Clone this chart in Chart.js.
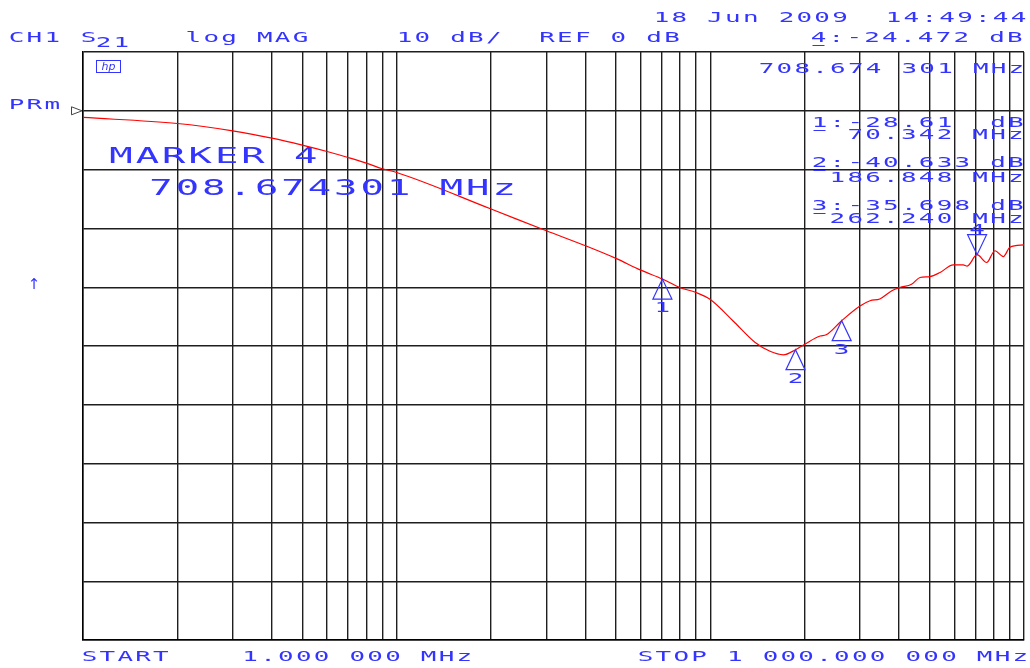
<!DOCTYPE html>
<html>
<head>
<meta charset="utf-8">
<script src="https://cdn.jsdelivr.net/npm/chart.js@4.4.0/dist/chart.umd.min.js"></script>
<style>
html, body { margin: 0; padding: 0; background: #fff; }
#wrap { width: 1030px; height: 668px; }
</style>
</head>
<body>
<div id="wrap"><canvas id="chart" width="1030" height="668"></canvas></div>
<script>
// S21 trace (MHz, dB)
const freqMHz = [1, 2, 3, 4, 5, 6, 7, 8, 9, 10, 20, 30, 40, 50, 60, 70.342, 80, 90, 100,
    118, 139, 155, 171, 186.848, 200, 224, 234, 262.24, 300, 323, 347, 379, 402,
    438, 466, 501, 540, 595, 640, 659, 708.674, 760, 808, 859, 902, 1000];
const s21dB = [-1.13, -2.16, -3.40, -4.64, -5.83, -6.92, -7.94, -8.89, -9.86, -10.49,
    -16.7, -20.4, -22.96, -25.1, -27.1, -28.61, -30.05, -30.9, -32.1,
    -35.7, -39.4, -40.9, -41.5, -40.633, -39.7, -38.3, -38.1, -35.698, -33.2, -32.3, -32.0, -30.6, -30.05,
    -29.5, -28.35, -28.2, -27.5, -26.2, -26.2, -26.4, -24.472, -25.8, -23.8, -24.8, -23.2, -22.8];

// markers
const markerNum = [1, 2, 3, 4];
const markerFreq = [70.342, 186.848, 262.240, 708.674301];
const markerDB = [-28.61, -40.633, -35.698, -24.472];

// grid
const gridFreqs = [1, 2, 3, 4, 5, 6, 7, 8, 9, 10, 20, 30, 40, 50, 60, 70, 80, 90, 100,
    200, 300, 400, 500, 600, 700, 800, 900, 1000];
const dbTicks = [-90, -80, -70, -60, -50, -40, -30, -20, -10, 0, 10];

const BLUE = '#3434ff';
const PITCH = 17.85;

function hpText(ctx, str, cx0, base, pitch, size, sx) {
    ctx.save();
    ctx.font = size + 'px "DejaVu Sans Mono"';
    ctx.textAlign = 'center';
    ctx.textBaseline = 'alphabetic';
    ctx.fillStyle = BLUE;
    for (let i = 0; i < str.length; i++) {
        const ch = str[i];
        if (ch === ' ') continue;
        ctx.save();
        ctx.translate(cx0 + i * pitch, base);
        ctx.scale(sx, 1);
        ctx.fillText(ch, 0, 0);
        ctx.restore();
    }
    ctx.restore();
}

function small(ctx, str, cx0, base) { hpText(ctx, str, cx0, base, PITCH, 14, 1.85); }
function big(ctx, str, cx0, base) { hpText(ctx, str, cx0, base, 26.4, 21, 1.85); }

function underline(ctx, cx, base) {
    ctx.save();
    ctx.strokeStyle = BLUE;
    ctx.lineWidth = 1;
    ctx.beginPath();
    ctx.moveTo(cx - 6, base + 3.5);
    ctx.lineTo(cx + 6, base + 3.5);
    ctx.stroke();
    ctx.restore();
}

const annotations = {
    id: 'annotations',
    afterDraw(chart) {
        const ctx = chart.ctx;
        const xs = chart.scales.x, ys = chart.scales.y;

        // header
        small(ctx, '18 Jun 2009  14:49:44', 661.5, 22);
        small(ctx, 'CH1', 16.5, 42);
        small(ctx, 'S', 88.5, 42);
        small(ctx, '21', 103.5, 47);
        small(ctx, 'log MAG', 193.4, 42);
        small(ctx, '10 dB/', 404.5, 42);
        small(ctx, 'REF 0 dB', 547, 42);
        small(ctx, '4:-24.472 dB', 818.5, 42);
        underline(ctx, 818.5, 42);
        small(ctx, '708.674 301 MHz', 766.5, 73);

        // reference position
        small(ctx, 'PRm', 16.5, 109);
        const yRef = ys.getPixelForValue(0);
        ctx.save();
        ctx.strokeStyle = '#444';
        ctx.lineWidth = 1;
        ctx.beginPath();
        ctx.moveTo(71.5, yRef - 4);
        ctx.lineTo(82, yRef);
        ctx.lineTo(71.5, yRef + 4);
        ctx.closePath();
        ctx.stroke();
        ctx.restore();

        ctx.save();
        ctx.fillStyle = BLUE;
        ctx.font = '15px "DejaVu Sans"';
        ctx.textAlign = 'center';
        ctx.fillText('\u2191', 34, 289);
        ctx.restore();

        // hp logo
        ctx.save();
        ctx.strokeStyle = BLUE;
        ctx.lineWidth = 1;
        ctx.strokeRect(96.5, 60.5, 24, 12);
        ctx.fillStyle = BLUE;
        ctx.font = 'italic 11px "DejaVu Sans"';
        ctx.textAlign = 'center';
        ctx.fillText('hp', 108.5, 70);
        ctx.restore();

        // marker table
        const listX = 819.5;
        small(ctx, '1:-28.61  dB', listX, 127);
        underline(ctx, listX, 127);
        small(ctx, '  70.342 MHz', listX, 139);
        small(ctx, '2:-40.633 dB', listX, 167);
        underline(ctx, listX, 167);
        small(ctx, ' 186.848 MHz', listX, 182);
        small(ctx, '3:-35.698 dB', listX, 210);
        underline(ctx, listX, 210);
        small(ctx, ' 262.240 MHz', listX, 223);

        big(ctx, 'MARKER 4', 121, 163);
        big(ctx, '708.674301 MHz', 161, 195);

        small(ctx, 'START    1.000 000 MHz', 89.5, 661);
        small(ctx, 'STOP 1 000.000 000 MHz', 645.5, 661);

        // marker triangles
        ctx.save();
        ctx.strokeStyle = BLUE;
        ctx.lineWidth = 1.2;
        for (let i = 0; i < markerNum.length; i++) {
            const px = xs.getPixelForValue(markerFreq[i]);
            const py = ys.getPixelForValue(markerDB[i]);
            const active = i === markerNum.length - 1;
            const dir = active ? -1 : 1;
            ctx.beginPath();
            ctx.moveTo(px, py);
            ctx.lineTo(px - 9.5, py + dir * 20);
            ctx.lineTo(px + 9.5, py + dir * 20);
            ctx.closePath();
            ctx.stroke();
            if (active) {
                small(ctx, String(markerNum[i]), px, py - 21);
            } else {
                small(ctx, String(markerNum[i]), px, py + 33);
            }
        }
        ctx.restore();
    }
};

new Chart(document.getElementById('chart'), {
    type: 'line',
    data: {
        datasets: [{
            data: freqMHz.map((f, i) => ({ x: f, y: s21dB[i] })),
            borderColor: '#ff0000',
            borderWidth: 1.2,
            pointRadius: 0,
            fill: false,
            cubicInterpolationMode: 'monotone'
        }]
    },
    options: {
        responsive: false,
        animation: false,
        devicePixelRatio: 1,
        layout: { padding: { left: 83, top: 52, right: 6, bottom: 28 } },
        plugins: { legend: { display: false }, tooltip: { enabled: false } },
        scales: {
            x: {
                type: 'logarithmic',
                min: 1,
                max: 1000,
                afterBuildTicks: scale => { scale.ticks = gridFreqs.map(v => ({ value: v })); },
                ticks: { display: false },
                grid: { color: '#1e1e1e', lineWidth: 1.4, drawTicks: false },
                border: { display: true, color: '#000', width: 1.5 }
            },
            y: {
                min: -90,
                max: 10,
                afterBuildTicks: scale => { scale.ticks = dbTicks.map(v => ({ value: v })); },
                ticks: { display: false },
                grid: { color: '#1e1e1e', lineWidth: 1.4, drawTicks: false },
                border: { display: true, color: '#000', width: 1.5 }
            }
        }
    },
    plugins: [annotations]
});
</script>
</body>
</html>
